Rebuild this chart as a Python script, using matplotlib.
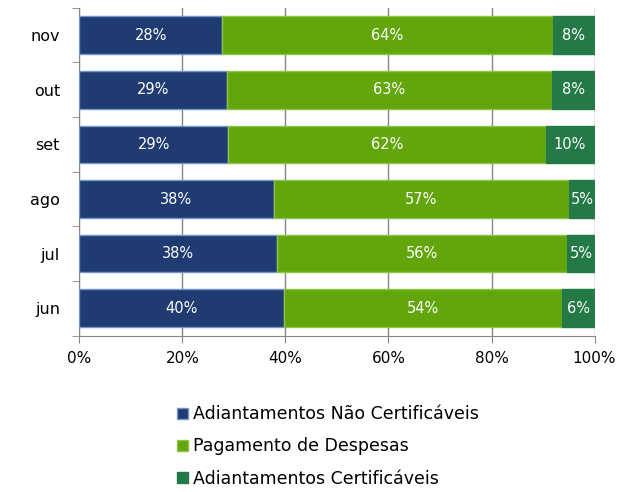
import numpy as np
import matplotlib
matplotlib.use('Agg')
import matplotlib.pyplot as plt

# data (percent of total), bottom to top
months = ['jun', 'jul', 'ago', 'set', 'out', 'nov']
nao_cert = [39.7, 38.4, 37.7, 28.9, 28.7, 27.7]
despesas = [54.0, 56.3, 57.4, 61.6, 63.0, 64.2]
cert = [6.3, 5.3, 4.9, 9.5, 8.3, 8.1]
series_names = ['Adiantamentos Não Certificáveis', 'Pagamento de Despesas', 'Adiantamentos Certificáveis']

colors = ['#203b72', '#62a60b', '#237a46']
edges = ['#6f95cc', '#8cc24a', '#237a46']

plt.rcParams['font.family'] = ['Verdana', 'DejaVu Sans']

fig = plt.figure(figsize=(6.4, 4.92), dpi=100)
ax = fig.add_axes([0.124, 0.318, 0.805, 0.666])

y = np.arange(len(months))
left = np.zeros(len(months))
for vals, name, c, ec in zip([nao_cert, despesas, cert], series_names, colors, edges):
    vals = np.array(vals)
    ax.barh(y, vals, left=left, height=0.69, color=c, edgecolor=ec, linewidth=1, label=name, zorder=3)
    for yi, l, v in zip(y, left, vals):
        ax.text(l + v / 2, yi, f'{v:.0f}%', ha='center', va='center', color='white', fontsize=10.5, zorder=4)
    left = left + vals

ax.set_xlim(0, 100)
ax.set_ylim(-0.5, len(months) - 0.5)
ax.set_xticks(np.arange(0, 101, 20))
ax.set_xticklabels([f'{t}%' for t in range(0, 101, 20)], fontsize=11)
ax.set_yticks(y)
ax.set_yticklabels(months, fontsize=11.5)
ax.set_yticks(np.arange(-0.5, len(months), 1), minor=True)
ax.tick_params(axis='y', which='major', length=0, pad=14)
ax.tick_params(axis='y', which='minor', length=5, color='#868686')
ax.tick_params(axis='x', length=5, color='#868686', pad=6)
ax.grid(axis='x', color='#868686', linewidth=1, zorder=0)
for s in ['top', 'right']:
    ax.spines[s].set_visible(False)
for s in ['left', 'bottom']:
    ax.spines[s].set_color('#868686')

ax.legend(loc='upper left', bbox_to_anchor=(0.16, -0.165), frameon=False, fontsize=12.5,
          handlelength=0.6, handleheight=0.6, handletextpad=0.3, labelspacing=0.82)

fig.savefig('out.png', dpi=100)
